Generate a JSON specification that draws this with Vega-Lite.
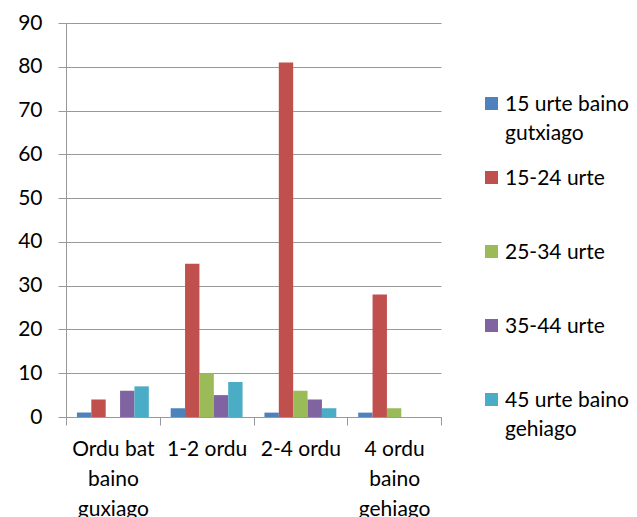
{
  "$schema": "https://vega.github.io/schema/vega-lite/v6.json",
  "width": 375,
  "height": 394,
  "autosize": "none",
  "padding": {"left": 66, "top": 23, "right": 196, "bottom": 100},
  "background": "white",
  "config": {"font": "Lato", "view": {"stroke": null}},
  "data": {
    "values": [
      {"time": "Ordu bat baino guxiago", "age": "15 urte baino gutxiago", "value": 1},
      {"time": "Ordu bat baino guxiago", "age": "15-24 urte", "value": 4},
      {"time": "Ordu bat baino guxiago", "age": "25-34 urte", "value": 0},
      {"time": "Ordu bat baino guxiago", "age": "35-44 urte", "value": 6},
      {"time": "Ordu bat baino guxiago", "age": "45 urte baino gehiago", "value": 7},
      {"time": "1-2 ordu", "age": "15 urte baino gutxiago", "value": 2},
      {"time": "1-2 ordu", "age": "15-24 urte", "value": 35},
      {"time": "1-2 ordu", "age": "25-34 urte", "value": 10},
      {"time": "1-2 ordu", "age": "35-44 urte", "value": 5},
      {"time": "1-2 ordu", "age": "45 urte baino gehiago", "value": 8},
      {"time": "2-4 ordu", "age": "15 urte baino gutxiago", "value": 1},
      {"time": "2-4 ordu", "age": "15-24 urte", "value": 81},
      {"time": "2-4 ordu", "age": "25-34 urte", "value": 6},
      {"time": "2-4 ordu", "age": "35-44 urte", "value": 4},
      {"time": "2-4 ordu", "age": "45 urte baino gehiago", "value": 2},
      {"time": "4 ordu baino gehiago", "age": "15 urte baino gutxiago", "value": 1},
      {"time": "4 ordu baino gehiago", "age": "15-24 urte", "value": 28},
      {"time": "4 ordu baino gehiago", "age": "25-34 urte", "value": 2},
      {"time": "4 ordu baino gehiago", "age": "35-44 urte", "value": 0},
      {"time": "4 ordu baino gehiago", "age": "45 urte baino gehiago", "value": 0}
    ]
  },
  "mark": {"type": "bar"},
  "encoding": {
    "x": {
      "field": "time",
      "type": "nominal",
      "sort": ["Ordu bat baino guxiago", "1-2 ordu", "2-4 ordu", "4 ordu baino gehiago"],
      "scale": {"paddingInner": 0, "paddingOuter": 0},
      "axis": {
        "title": null,
        "labelAngle": 0,
        "labelFontSize": 21,
        "labelColor": "#000000",
        "labelBaseline": "top",
        "labelPadding": 13,
        "labelLineHeight": 30,
        "labelLimit": 0,
        "labelOverlap": false,
        "labelExpr": "datum.label == 'Ordu bat baino guxiago' ? ['Ordu bat', 'baino', 'guxiago'] : datum.label == '4 ordu baino gehiago' ? ['4 ordu', 'baino', 'gehiago'] : datum.label",
        "tickBand": "extent",
        "tickSize": 8,
        "tickColor": "#999999",
        "domainColor": "#999999",
        "grid": false
      }
    },
    "xOffset": {
      "field": "age",
      "type": "nominal",
      "sort": ["15 urte baino gutxiago", "15-24 urte", "25-34 urte", "35-44 urte", "45 urte baino gehiago"],
      "scale": {"paddingInner": 0, "paddingOuter": 0.76}
    },
    "y": {
      "field": "value",
      "type": "quantitative",
      "scale": {"domain": [0, 90], "nice": false},
      "axis": {
        "title": null,
        "values": [0, 10, 20, 30, 40, 50, 60, 70, 80, 90],
        "labelFontSize": 21,
        "labelColor": "#000000",
        "labelPadding": 16,
        "tickSize": 8,
        "tickColor": "#999999",
        "domainColor": "#999999",
        "gridColor": "#999999",
        "grid": true
      }
    },
    "color": {
      "field": "age",
      "type": "nominal",
      "sort": ["15 urte baino gutxiago", "15-24 urte", "25-34 urte", "35-44 urte", "45 urte baino gehiago"],
      "scale": {
        "domain": ["15 urte baino gutxiago", "15-24 urte", "25-34 urte", "35-44 urte", "45 urte baino gehiago"],
        "range": ["#4F81BD", "#C0504D", "#9BBB59", "#8064A2", "#4BACC6"]
      },
      "legend": {
        "title": null,
        "orient": "none",
        "legendX": 415,
        "legendY": 70,
        "symbolType": "square",
        "symbolSize": 169,
        "symbolStrokeWidth": 0,
        "symbolOpacity": 1,
        "labelFontSize": 21,
        "labelColor": "#000000",
        "labelOffset": 3,
        "labelLimit": 0,
        "labelBaseline": "top",
        "rowPadding": 23,
        "labelExpr": "datum.label == '15 urte baino gutxiago' ? ['15 urte baino', 'gutxiago'] : datum.label == '45 urte baino gehiago' ? ['45 urte baino', 'gehiago'] : [datum.label, '']",
        "encode": {"labels": {"update": {"lineHeight": {"value": 29}, "dy": {"value": -10}}}}
      }
    }
  }
}
